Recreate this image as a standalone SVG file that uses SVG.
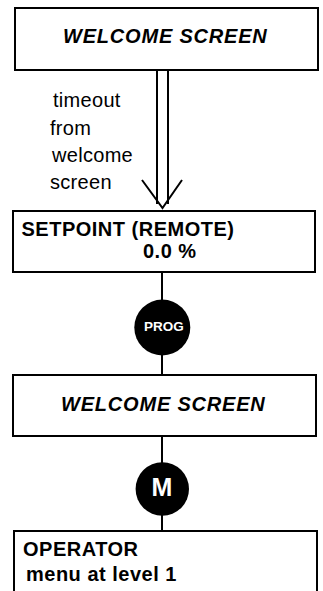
<svg xmlns="http://www.w3.org/2000/svg" width="323" height="591" viewBox="0 0 323 591">
  <style>
    .box { fill: #ffffff; stroke: #000000; stroke-width: 2; }
    .ln { stroke: #000000; stroke-width: 2; fill: none; }
    .btn { fill: #000000; }
    .t { font-family: "Liberation Sans", Arial, sans-serif; fill: #000000; }
    .b { font-weight: bold; font-size: 20px; letter-spacing: 0.5px; }
    .bi { font-weight: bold; font-style: italic; font-size: 20px; letter-spacing: 0.8px; }
    .r { font-size: 20px; letter-spacing: 0.3px; }
    .w { fill: #ffffff; font-weight: bold; text-anchor: middle; }
  </style>
  <rect width="323" height="591" fill="#ffffff"/>
  <g id="connectors">
    <line class="ln" x1="157" y1="70" x2="157" y2="204"/>
    <line class="ln" x1="168" y1="70" x2="168" y2="204"/>
    <polyline class="ln" points="142,180 162.5,208 182,180"/>
    <line class="ln" x1="162" y1="272" x2="162" y2="300"/>
    <line class="ln" x1="162" y1="355" x2="162" y2="375"/>
    <line class="ln" x1="162" y1="436" x2="162" y2="463"/>
    <line class="ln" x1="162" y1="515" x2="162" y2="531"/>
  </g>
  <g id="timeout-label">
    <text class="t r" x="53" y="107">timeout</text>
    <text class="t r" x="50" y="135">from</text>
    <text class="t r" x="52" y="162">welcome</text>
    <text class="t r" x="50" y="189">screen</text>
  </g>
  <g id="welcome1">
    <rect class="box" x="15" y="8" width="303" height="62"/>
    <text class="t bi" x="63" y="43">WELCOME SCREEN</text>
  </g>
  <g id="setpoint">
    <rect class="box" x="13" y="211" width="302" height="61"/>
    <text class="t b" x="21.5" y="236">SETPOINT (REMOTE)</text>
    <text class="t b" x="143" y="258">0.0 %</text>
  </g>
  <g id="prog">
    <circle class="btn" cx="162.3" cy="327.5" r="28"/>
    <text class="t w" x="164" y="331" font-size="13.5">PROG</text>
  </g>
  <g id="welcome2">
    <rect class="box" x="13" y="375" width="303" height="61"/>
    <text class="t bi" x="61" y="411">WELCOME SCREEN</text>
  </g>
  <g id="m">
    <circle class="btn" cx="162.3" cy="489" r="26.7"/>
    <text class="t w" x="162" y="496" font-size="25">M</text>
  </g>
  <g id="operator">
    <rect class="box" x="14" y="531" width="303" height="75"/>
    <text class="t b" x="23" y="556">OPERATOR</text>
    <text class="t b" x="26" y="581">menu at level 1</text>
  </g>
</svg>
